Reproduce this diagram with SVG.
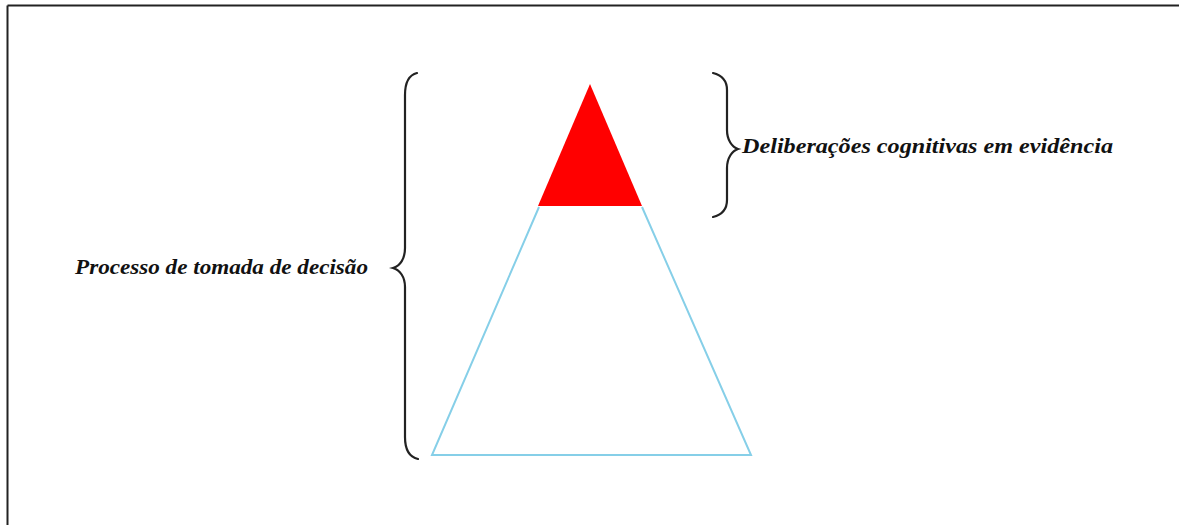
<svg xmlns="http://www.w3.org/2000/svg" width="1179" height="525" viewBox="0 0 1179 525">
<style>
.brace{fill:none;stroke:#222;stroke-width:2.2;stroke-linecap:round}
.lbl{font-family:"Liberation Serif","Times New Roman",serif;font-weight:bold;font-style:italic;font-size:21px;fill:#111}
</style>
<rect width="1179" height="525" fill="#fff"/>
<g id="frame">
<line x1="7.5" y1="5.5" x2="1179" y2="5.5" stroke="#222" stroke-width="2"/>
<line x1="7.5" y1="5.5" x2="7.5" y2="525" stroke="#222" stroke-width="2"/>
</g>
<g id="base">
<polyline points="539,207 432,455 751,455 642,207" fill="none" stroke="#86cfe8" stroke-width="2"/>
</g>
<g id="top">
<polygon points="590,84 538,206 642,206" fill="#ff0000"/>
</g>
<g id="brace-left">
<path class="brace" d="M417,73 C409,75 405,82 405,95 L405,248 C405,259 400,266 393,268 C400,270 405,277 405,287 L405,437 C405,450 409,457 418,459"/>
</g>
<g id="brace-right">
<path class="brace" d="M713,73 C721,75 727,80 727,90 L727,130 C727,140 732,147 738,149 C732,151 727,158 727,168 L727,200 C727,210 721,215 713,217"/>
</g>
<g id="label-right">
<text class="lbl" x="742" y="153" textLength="371" lengthAdjust="spacingAndGlyphs">Deliberações cognitivas em evidência</text>
</g>
<g id="label-left">
<text class="lbl" x="75" y="274" textLength="293" lengthAdjust="spacingAndGlyphs">Processo de tomada de decisão</text>
</g>
</svg>
